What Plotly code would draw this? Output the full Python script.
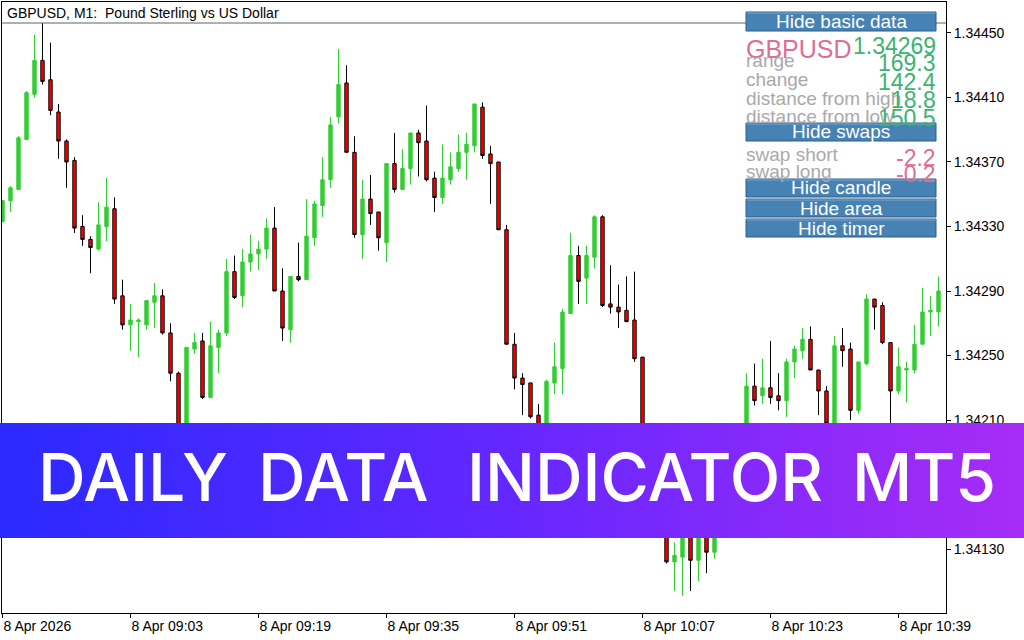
import base64
import pandas as pd
import plotly.graph_objects as go

# GBPUSD M1 bars, 08:47 .. 10:44
opens = [1.34333, 1.34346, 1.34353, 1.34384, 1.34412, 1.34433, 1.34421, 1.34401, 1.34383, 1.34371,
         1.34330, 1.34322, 1.34316, 1.34330, 1.34341, 1.34287, 1.34269, 1.34271, 1.34269, 1.34283,
         1.34287, 1.34264, 1.34239, 1.34205, 1.34254, 1.34259, 1.34224, 1.34255, 1.34264, 1.34302,
         1.34287, 1.34308, 1.34313, 1.34316, 1.34329, 1.34290, 1.34266, 1.34299, 1.34297, 1.34323,
         1.34343, 1.34359, 1.34398, 1.34419, 1.34376, 1.34325, 1.34347, 1.34339, 1.34320, 1.34369,
         1.34353, 1.34366, 1.34388, 1.34383, 1.34360, 1.34348, 1.34359, 1.34366, 1.34376, 1.34380,
         1.34404, 1.34375, 1.34370, 1.34328, 1.34257, 1.34236, 1.34233, 1.34213, 1.34200, 1.34233,
         1.34242, 1.34276, 1.34312, 1.34298, 1.34311, 1.34336, 1.34282, 1.34280, 1.34278, 1.34272,
         1.34249, 1.34180, 1.34160, 1.34145, 1.34122, 1.34125, 1.34145, 1.34123, 1.34142, 1.34128,
         1.34155, 1.34170, 1.34185, 1.34200, 1.34231, 1.34225, 1.34230, 1.34225, 1.34222, 1.34246,
         1.34253, 1.34260, 1.34241, 1.34228, 1.34207, 1.34256, 1.34254, 1.34216, 1.34245, 1.34285,
         1.34281, 1.34258, 1.34228, 1.34241, 1.34241, 1.34257, 1.34277, 1.34277]
highs = [1.34346, 1.34355, 1.34386, 1.34414, 1.34449, 1.34458, 1.34444, 1.34406, 1.34384, 1.34373,
         1.34337, 1.34324, 1.34345, 1.34360, 1.34348, 1.34297, 1.34282, 1.34273, 1.34284, 1.34295,
         1.34291, 1.34270, 1.34240, 1.34255, 1.34264, 1.34264, 1.34271, 1.34266, 1.34310, 1.34312,
         1.34316, 1.34325, 1.34321, 1.34335, 1.34342, 1.34304, 1.34299, 1.34320, 1.34347, 1.34346,
         1.34373, 1.34398, 1.34440, 1.34430, 1.34386, 1.34359, 1.34362, 1.34339, 1.34369, 1.34388,
         1.34378, 1.34388, 1.34390, 1.34405, 1.34364, 1.34381, 1.34376, 1.34387, 1.34388, 1.34406,
         1.34407, 1.34380, 1.34370, 1.34331, 1.34264, 1.34239, 1.34233, 1.34220, 1.34235, 1.34258,
         1.34279, 1.34326, 1.34318, 1.34318, 1.34337, 1.34337, 1.34306, 1.34294, 1.34299, 1.34302,
         1.34249, 1.34185, 1.34165, 1.34148, 1.34134, 1.34150, 1.34148, 1.34150, 1.34146, 1.34160,
         1.34175, 1.34190, 1.34205, 1.34239, 1.34245, 1.34248, 1.34259, 1.34239, 1.34248, 1.34256,
         1.34267, 1.34268, 1.34241, 1.34231, 1.34262, 1.34267, 1.34258, 1.34246, 1.34288, 1.34285,
         1.34283, 1.34258, 1.34255, 1.34246, 1.34269, 1.34292, 1.34287, 1.34299]
lows = [1.34333, 1.34339, 1.34353, 1.34384, 1.34410, 1.34418, 1.34399, 1.34372, 1.34354, 1.34326,
        1.34318, 1.34301, 1.34315, 1.34321, 1.34282, 1.34266, 1.34253, 1.34249, 1.34266, 1.34267,
        1.34263, 1.34234, 1.34200, 1.34203, 1.34251, 1.34223, 1.34224, 1.34239, 1.34262, 1.34285,
        1.34280, 1.34302, 1.34303, 1.34310, 1.34290, 1.34259, 1.34258, 1.34296, 1.34297, 1.34318,
        1.34336, 1.34354, 1.34394, 1.34376, 1.34323, 1.34310, 1.34331, 1.34315, 1.34308, 1.34351,
        1.34353, 1.34356, 1.34361, 1.34358, 1.34339, 1.34344, 1.34356, 1.34364, 1.34359, 1.34376,
        1.34372, 1.34344, 1.34328, 1.34257, 1.34229, 1.34213, 1.34211, 1.34195, 1.34197, 1.34226,
        1.34226, 1.34276, 1.34282, 1.34282, 1.34304, 1.34280, 1.34276, 1.34267, 1.34271, 1.34246,
        1.34175, 1.34155, 1.34140, 1.34121, 1.34104, 1.34101, 1.34104, 1.34110, 1.34115, 1.34124,
        1.34150, 1.34165, 1.34180, 1.34195, 1.34219, 1.34220, 1.34220, 1.34216, 1.34212, 1.34236,
        1.34248, 1.34241, 1.34213, 1.34206, 1.34205, 1.34243, 1.34210, 1.34214, 1.34244, 1.34266,
        1.34257, 1.34205, 1.34226, 1.34221, 1.34239, 1.34257, 1.34262, 1.34268]
closes = [1.34346, 1.34354, 1.34385, 1.34413, 1.34433, 1.34420, 1.34402, 1.34383, 1.34370, 1.34329,
          1.34322, 1.34317, 1.34331, 1.34342, 1.34285, 1.34269, 1.34272, 1.34272, 1.34284, 1.34287,
          1.34264, 1.34239, 1.34205, 1.34255, 1.34258, 1.34224, 1.34256, 1.34264, 1.34302, 1.34286,
          1.34308, 1.34313, 1.34316, 1.34329, 1.34290, 1.34267, 1.34299, 1.34297, 1.34324, 1.34344,
          1.34359, 1.34393, 1.34418, 1.34376, 1.34325, 1.34347, 1.34338, 1.34323, 1.34369, 1.34353,
          1.34366, 1.34388, 1.34382, 1.34359, 1.34348, 1.34360, 1.34367, 1.34376, 1.34381, 1.34406,
          1.34374, 1.34369, 1.34328, 1.34257, 1.34236, 1.34232, 1.34212, 1.34200, 1.34234, 1.34243,
          1.34277, 1.34312, 1.34296, 1.34312, 1.34336, 1.34281, 1.34280, 1.34277, 1.34271, 1.34248,
          1.34180, 1.34160, 1.34145, 1.34122, 1.34126, 1.34145, 1.34123, 1.34142, 1.34128, 1.34155,
          1.34170, 1.34185, 1.34200, 1.34231, 1.34222, 1.34230, 1.34224, 1.34222, 1.34246, 1.34254,
          1.34260, 1.34241, 1.34228, 1.34208, 1.34256, 1.34253, 1.34216, 1.34246, 1.34285, 1.34280,
          1.34258, 1.34228, 1.34243, 1.34242, 1.34257, 1.34277, 1.34278, 1.34290]
times = pd.date_range("2026-04-08 08:47", periods=len(opens), freq="min")

tick_times = ["2026-04-08 08:47", "2026-04-08 09:03", "2026-04-08 09:19", "2026-04-08 09:35",
              "2026-04-08 09:51", "2026-04-08 10:07", "2026-04-08 10:23", "2026-04-08 10:39"]
tick_labels = ["8 Apr 2026", "8 Apr 09:03", "8 Apr 09:19", "8 Apr 09:35",
               "8 Apr 09:51", "8 Apr 10:07", "8 Apr 10:23", "8 Apr 10:39"]
price_ticks = [1.34130, 1.34170, 1.34210, 1.34250, 1.34290, 1.34330, 1.34370, 1.34410, 1.34450]

symbol = "GBPUSD"
last_price = "1.34269"
info_labels = ["range", "change", "distance from high", "distance from low"]
info_values = ["169.3", "142.4", "18.8", "150.5"]
swap_labels = ["swap short", "swap long"]
swap_values = ["-2.2", "-0.2"]
button_labels = ["Hide basic data", "Hide swaps", "Hide candle", "Hide area", "Hide timer"]
banner_words = ["DAILY", "DATA", "INDICATOR", "MT5"]

# pixel geometry of the MT5 chart window
PL, PR, PT, PB = 2, 946, 2, 613


def px(x):
    return (x - PL) / (PR - PL)


def py(y):
    return (PB - y) / (PB - PT)


GREEN = "#32cd32"
PINK = "#db7093"
SEA = "#3cb371"
GRAY = "#a9a9a9"
STEEL = "#4682b4"
FONT = "Liberation Sans"

fig = go.Figure()
fig.add_trace(go.Candlestick(
    x=times, open=opens, high=highs, low=lows, close=closes,
    increasing=dict(line=dict(color=GREEN, width=1), fillcolor=GREEN),
    decreasing=dict(line=dict(color="#000000", width=1), fillcolor="#ff0000"),
    whiskerwidth=0,
))

fig.update_layout(
    width=1024, height=640,
    margin=dict(l=PL, r=1024 - PR, t=PT, b=640 - PB),
    paper_bgcolor="white", plot_bgcolor="white",
    showlegend=False, boxgap=0.4,
    font=dict(family=FONT, size=14, color="black"),
)
fig.update_xaxes(
    type="date", range=["2026-04-08 08:46:56.25", "2026-04-08 10:44:56.25"],
    rangeslider=dict(visible=False), showgrid=False, zeroline=False,
    showline=True, linecolor="black", linewidth=1, mirror=True,
    ticks="outside", ticklen=4, tickcolor="black",
    tickvals=tick_times, ticktext=tick_labels, ticklabelposition="outside right",
    tickfont=dict(family=FONT, size=14, color="black"),
)
fig.update_yaxes(
    side="right", range=[1.3409031, 1.3446922], showgrid=False, zeroline=False,
    showline=True, linecolor="black", linewidth=1, mirror=True,
    ticks="outside", ticklen=4, tickcolor="black",
    tickvals=price_ticks, ticktext=["%.5f" % v for v in price_ticks],
    tickfont=dict(family=FONT, size=14, color="black"),
)

# title bar
fig.add_shape(type="rect", xref="paper", yref="paper", layer="above",
              x0=px(2.5), x1=px(945.5), y0=py(23), y1=py(2.5),
              fillcolor="white", line_width=0)
fig.add_shape(type="line", xref="paper", yref="paper", layer="above",
              x0=px(2), x1=px(946), y0=py(23), y1=py(23), line=dict(color="#606060", width=1))
fig.add_annotation(x=px(5), y=py(12.8), xref="paper", yref="paper", text="GBPUSD, M1:\u00a0 Pound Sterling vs US Dollar",
                   showarrow=False, xanchor="left", yanchor="middle",
                   font=dict(family=FONT, size=14, color="black"))

# banner with gradient
svg = ('<svg xmlns="http://www.w3.org/2000/svg" width="1024" height="115" preserveAspectRatio="none">'
       '<defs><linearGradient id="g" x1="0" y1="0" x2="1" y2="0">'
       '<stop offset="0" stop-color="#2a2aff"/><stop offset="0.5" stop-color="#6527ff"/>'
       '<stop offset="1" stop-color="#a72cf6"/></linearGradient></defs>'
       '<rect width="1024" height="115" fill="url(#g)"/></svg>')
fig.add_layout_image(
    source="data:image/svg+xml;base64," + base64.b64encode(svg.encode()).decode(),
    xref="paper", yref="paper", x=px(0), y=py(423), sizex=1024 / (PR - PL), sizey=115 / (PB - PT),
    xanchor="left", yanchor="top", sizing="stretch", layer="above",
)
word_centers = [132.5, 343, 645, 924]
for word, cx in zip(banner_words, word_centers):
    fig.add_annotation(x=px(cx), y=py(477), xref="paper", yref="paper", text=word, showarrow=False,
                       xanchor="center", yanchor="middle",
                       font=dict(family="Inter", size=66, color="white", weight=500))

# info panel buttons
button_rows = [(12, 31), (123, 141), (179, 197), (199, 217), (219, 237)]
for text, (y0, y1) in zip(button_labels, button_rows):
    fig.add_shape(type="rect", xref="paper", yref="paper", layer="above",
                  x0=px(746), x1=px(936), y0=py(y1), y1=py(y0),
                  fillcolor=STEEL, line=dict(color="#2c5d8a", width=1))
    fig.add_shape(type="line", xref="paper", yref="paper", layer="above",
                  x0=px(746.5), x1=px(935.5), y0=py(y0 + 1), y1=py(y0 + 1),
                  line=dict(color="#7aa7d4", width=1))
    fig.add_annotation(x=px(841), y=py((y0 + y1) / 2), xref="paper", yref="paper", text=text,
                       showarrow=False, xanchor="center", yanchor="middle",
                       font=dict(family=FONT, size=19, color="white"))


def panel_text(x, y, text, size, color, anchor):
    fig.add_annotation(x=px(x), y=py(y), xref="paper", yref="paper", text=text, showarrow=False,
                       xanchor=anchor, yanchor="middle", borderpad=0,
                       font=dict(family=FONT, size=size, color=color))


panel_text(745, 48.5, symbol, 25, PINK, "left")
panel_text(937, 46, last_price, 23, SEA, "right")
for text, y in zip(info_labels, [60.5, 79.9, 98.5, 116.7]):
    panel_text(745, y, text, 19, GRAY, "left")
for text, y in zip(info_values, [63, 81.7, 100, 117.5]):
    panel_text(937, y, text, 23, SEA, "right")
for text, y in zip(swap_labels, [154.9, 171.5]):
    panel_text(745, y, text, 19, GRAY, "left")
for text, y in zip(swap_values, [158.3, 174.4]):
    panel_text(937, y, text, 23, PINK, "right")

# the page body has a default 8px margin; drop it so the chart sits at 0,0
fig.write_html("out.html", config={"displayModeBar": False},
               post_script="document.body.style.margin='0';")
